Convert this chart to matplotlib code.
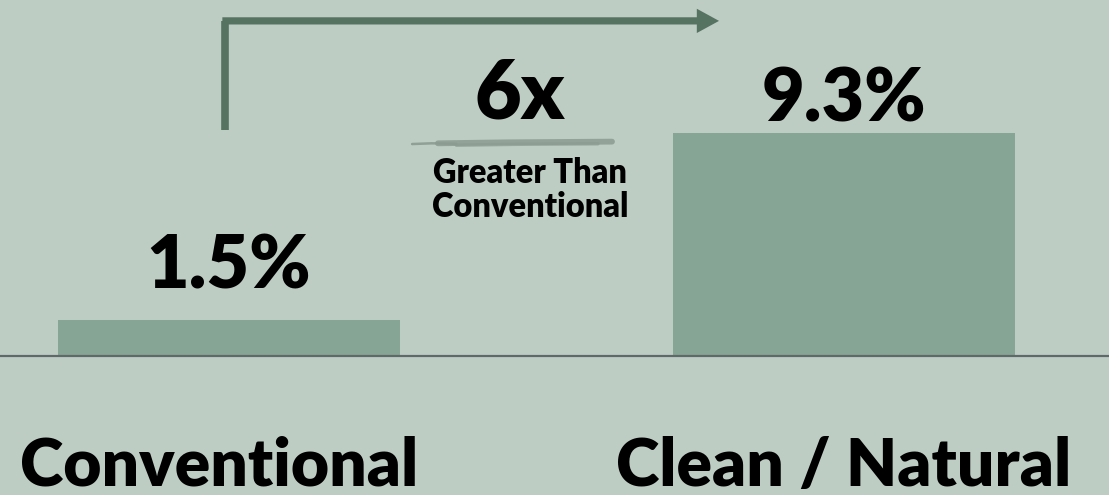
import matplotlib
matplotlib.use("Agg")
import matplotlib.pyplot as plt

# data
categories = ["Conventional", "Clean / Natural"]
values = [1.5, 9.3]
value_labels = ["1.5%", "9.3%"]
multiple_label = "6x"
multiple_note = "Greater Than\nConventional"

bg = "#BECDC4"
bar_color = "#87A594"
arrow_color = "#567361"
brush = "#8C9B91"

plt.rcParams['font.family'] = ['Lato', 'DejaVu Sans']

fig = plt.figure(figsize=(11.09, 4.95), dpi=100, facecolor=bg)
ax = fig.add_axes([0, 0, 1, 1])
ax.set_facecolor(bg)

x = [0, 1]
ax.bar(x, values, width=0.556, color=bar_color, zorder=2)
ax.set_xlim(-0.372, 1.431)
ax.set_ylim(-5.79, 14.83)
ax.axhline(0, color="#5F6969", lw=1.6, zorder=3)
ax.axis("off")

# value labels above bars
offsets = [1.33, 0.45]
for xi, v, lab, off in zip(x, values, value_labels, offsets):
    ax.text(xi, v + off, lab, ha="center", va="baseline",
            fontsize=53, fontweight="heavy", color="black")

# category labels under the axis
cat_x = [-0.015, 1.0]
for xi, cat in zip(cat_x, categories):
    ax.text(xi, -5.4, cat, ha="center", va="baseline",
            fontsize=47.5, fontweight="heavy", color="black")

# elbow arrow from first bar up and over toward the second
top = max(values)
ay = 13.96
ax.plot([-0.006, -0.006], [top + 0.12, ay], color=arrow_color, lw=5.5,
        solid_capstyle="butt", zorder=4)
ax.annotate("", xy=(0.797, ay), xytext=(-0.0105, ay),
            arrowprops=dict(width=5.2, headwidth=17.5, headlength=16,
                            color=arrow_color, lw=0, shrink=0))

# multiple label, brush stroke and note
ax.text(0.473, 9.875, multiple_label, ha="center", va="baseline",
        fontsize=58, fontweight="heavy", color="black")
ax.plot([0.298, 0.33, 0.37], [8.83, 8.86, 8.84], color=brush, lw=1.8,
        alpha=0.9, solid_capstyle="round")
ax.plot([0.34, 0.45, 0.623], [8.86, 8.9, 8.93], color=brush, lw=4.2,
        alpha=0.85, solid_capstyle="round")
ax.plot([0.37, 0.47, 0.60], [8.78, 8.82, 8.84], color=brush, lw=2.5,
        alpha=0.7, solid_capstyle="round")
ax.text(0.49, 5.79, multiple_note, ha="center", va="baseline",
        fontsize=23.5, fontweight="heavy", color="black", linespacing=1.08)

fig.savefig("out.png", dpi=100, facecolor=bg)
